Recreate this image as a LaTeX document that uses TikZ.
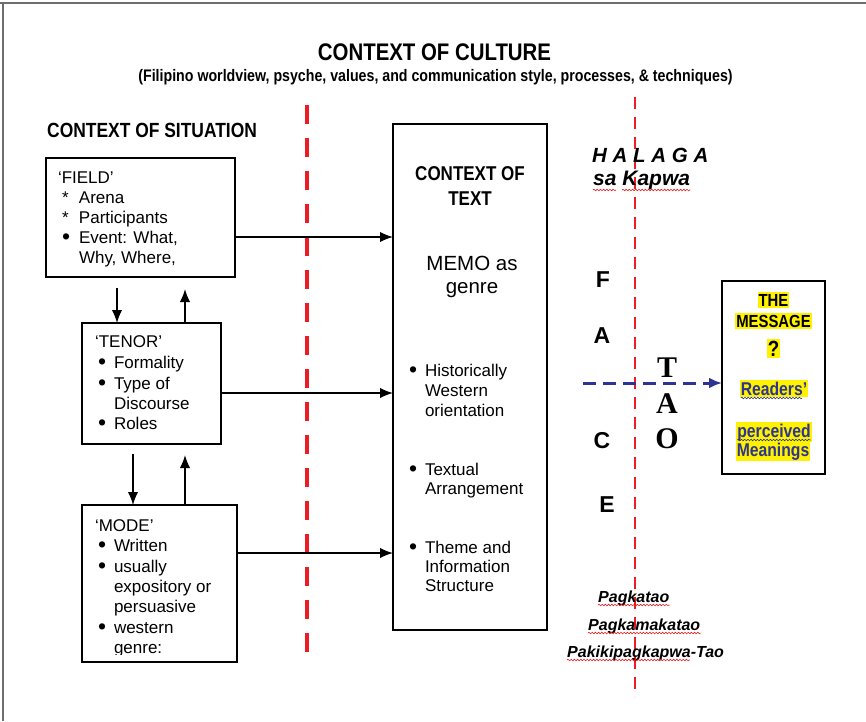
\documentclass[tikz,border=0pt]{standalone}
\usepackage{fontspec}
\setmainfont{Liberation Sans}
\newfontfamily\narrowf[FakeStretch=0.85]{Liberation Sans}
\newfontfamily\timesf{Liberation Serif}
\usetikzlibrary{arrows.meta,decorations.pathmorphing}
\definecolor{dashred}{RGB}{237,28,36}
\definecolor{navy}{RGB}{46,52,146}
\definecolor{hl}{RGB}{255,242,0}
\definecolor{framegray}{RGB}{110,110,110}
\newcommand{\bul}{\raisebox{-1.9pt}{\scalebox{1.35}{•}}}
\begin{document}
\begin{tikzpicture}[x=1pt,y=-1pt,
  box/.style={draw, line width=1.8pt, inner sep=0pt, outer sep=0pt},
  ln/.style={anchor=base west, inner sep=0pt, outer sep=0pt, font=\fontsize{17}{20}\selectfont},
  ctr/.style={anchor=base, inner sep=0pt, outer sep=0pt},
  arr/.style={line width=1.6pt, -{Latex[length=13pt,width=10.5pt]}},
  wave/.style={dashred, line width=0.6pt, decorate, decoration={snake, amplitude=0.8pt, segment length=3.2pt}},
  hlt/.style={anchor=base, fill=hl, inner xsep=1pt, inner ysep=1.5pt, outer sep=0pt},
  msgb/.style={font=\narrowf\bfseries\fontsize{17.5}{20}\selectfont},
  msgn/.style={font=\narrowf\bfseries\fontsize{18.5}{20}\selectfont, text=navy},
  face/.style={ctr, font=\bfseries\fontsize{23}{25}\selectfont},
  tao/.style={ctr, font=\timesf\bfseries\fontsize{30}{32}\selectfont},
  kapwa/.style={anchor=base west, inner sep=0pt, font=\bfseries\itshape\fontsize{16}{18}\selectfont}
]
\useasboundingbox (0,0) rectangle (866,721);
\fill[white] (0,0) rectangle (866,721);
% frame
\draw[framegray, line width=2pt] (0,3) -- (866,3);
\draw[framegray, line width=2pt] (3,2) -- (3,721);

% titles
\node[ctr, font=\narrowf\bfseries\fontsize{24}{28}\selectfont] (title) at (434.5,60) {CONTEXT OF CULTURE};
\node[ctr, font=\narrowf\bfseries\fontsize{16.7}{18}\selectfont] (subtitle) at (435.5,81) {(Filipino worldview, psyche, values, and communication style, processes, \& techniques)};
\node[anchor=base west, inner sep=0pt, font=\narrowf\bfseries\fontsize{20.5}{24}\selectfont] (sit) at (47,137) {CONTEXT OF SITUATION};

% red dashed lines
\draw[dashred, line width=4.5pt, dash pattern=on 19pt off 14pt] (307,105) -- (307,665);
\draw[dashred, line width=2.8pt, dash pattern=on 12pt off 8pt] (635,97) -- (635,697);

% boxes
\node[box, minimum width=189pt, minimum height=119pt] (field) at (140.5,217.5) {};
\node[box, minimum width=139pt, minimum height=121pt] (tenor) at (151.5,383.5) {};
\node[box, minimum width=155pt, minimum height=157pt] (mode) at (159.5,583.5) {};
\node[box, minimum width=154pt, minimum height=506pt] (ctx) at (470,377) {};
\node[box, minimum width=103pt, minimum height=193pt] (msg) at (773.5,377.5) {};

% FIELD text
\node[ln] (f0) at (58,183) {‘FIELD’};
\node[ln] (f1) at (62,203) {\makebox[17pt][l]{*}Arena};
\node[ln] (f2) at (62,223) {\makebox[17pt][l]{*}Participants};
\node[ln] (f3) at (62,243) {\makebox[17pt][l]{\bul}Event: What,};
\node[ln] (f4) at (62,263) {\makebox[17pt][l]{}Why, Where,};

% TENOR text
\node[ln] (t0) at (95,347) {‘TENOR’};
\node[ln] (t1) at (98,368) {\makebox[16pt][l]{\bul}Formality};
\node[ln] (t2) at (98,389) {\makebox[16pt][l]{\bul}Type of};
\node[ln] (t3) at (98,409) {\makebox[16pt][l]{}Discourse};
\node[ln] (t4) at (98,429) {\makebox[16pt][l]{\bul}Roles};

% MODE text
\node[ln] (m0) at (95,531) {‘MODE’};
\node[ln] (m1) at (98,551) {\makebox[16pt][l]{\bul}Written};
\node[ln] (m2) at (98,572) {\makebox[16pt][l]{\bul}usually};
\node[ln] (m3) at (98,592) {\makebox[16pt][l]{}expository or};
\node[ln] (m4) at (98,612) {\makebox[16pt][l]{}persuasive};
\node[ln] (m5) at (98,633) {\makebox[16pt][l]{\bul}western};
\begin{scope}
\clip (84,600) rectangle (235,654.5);
\node[ln] (m6) at (98,653) {\makebox[16pt][l]{}genre:};
\end{scope}

% CONTEXT OF TEXT
\node[ctr, font=\narrowf\bfseries\fontsize{20}{24}\selectfont] (c0) at (470,180) {CONTEXT OF};
\node[ctr, font=\narrowf\bfseries\fontsize{20}{24}\selectfont] (c1) at (470,205) {TEXT};
\node[ctr, font=\fontsize{20.5}{24}\selectfont] (c2) at (472,270) {MEMO as};
\node[ctr, font=\fontsize{20.5}{24}\selectfont] (c3) at (472,293) {genre};
\node[ln] (c4) at (409,376) {\makebox[16pt][l]{\bul}Historically};
\node[ln] (c5) at (409,396) {\makebox[16pt][l]{}Western};
\node[ln] (c6) at (409,416) {\makebox[16pt][l]{}orientation};
\node[ln] (c7) at (409,475) {\makebox[16pt][l]{\bul}Textual};
\node[ln] (c8) at (409,494) {\makebox[16pt][l]{}Arrangement};
\node[ln] (c9) at (409,553) {\makebox[16pt][l]{\bul}Theme and};
\node[ln] (c10) at (409,572) {\makebox[16pt][l]{}Information};
\node[ln] (c11) at (409,591) {\makebox[16pt][l]{}Structure};

% horizontal arrows
\coordinate (yF) at (0,237);
\coordinate (yT) at (0,393);
\coordinate (yM) at (0,553);
\draw[arr] (field.east |- yF) -- (ctx.west |- yF);
\draw[arr] (tenor.east |- yT) -- (ctx.west |- yT);
\draw[arr] (mode.east |- yM) -- (ctx.west |- yM);

% vertical arrows
\coordinate (xA) at (117,0);
\coordinate (xB) at (185,0);
\coordinate (xC) at (133,0);
\draw[arr, shorten <=11pt] (field.south -| xA) -- (tenor.north -| xA);
\draw[arr, shorten >=12pt] (tenor.north -| xB) -- (field.south -| xB);
\draw[arr, shorten <=10pt] (tenor.south -| xC) -- (mode.north -| xC);
\draw[arr, shorten >=11pt] (mode.north -| xB) -- (tenor.south -| xB);

% HALAGA sa Kapwa
\node[anchor=base west, inner sep=0pt, font=\bfseries\itshape\fontsize{20.5}{24}\selectfont] (hal) at (592,162) {H A L A G A};
\node[anchor=base west, inner sep=0pt, font=\bfseries\itshape\fontsize{21}{24}\selectfont] (sk) at (593,185) {sa Kapwa};
\draw[wave] ([yshift=-5pt]sk.base west) -- ([xshift=23pt,yshift=-5pt]sk.base west);
\draw[wave] ([xshift=29pt,yshift=-5pt]sk.base west) -- ([yshift=-5pt]sk.base east);

% FACE
\node[face] (fF) at (603,287) {F};
\node[face] (fA) at (602,343) {A};
\node[face] (fC) at (602,448) {C};
\node[face] (fE) at (607,512) {E};
% TAO
\node[tao] (tT) at (667,377) {T};
\node[tao] (tA) at (667,413) {A};
\node[tao] (tO) at (667,448) {O};

% blue dashed arrow
\coordinate (bstart) at (583,383);
\draw[navy, line width=3pt, dash pattern=on 13pt off 7pt, -{Latex[length=13pt,width=11pt]}] (bstart) -- (msg.west |- bstart);

% message box contents
\node[hlt, msgb] (ms0) at (773.5,306) {THE};
\node[hlt, msgb] (ms1) at (773.5,327) {MESSAGE};
\node[hlt, font=\narrowf\bfseries\fontsize{22}{24}\selectfont, inner ysep=2pt] (ms2) at (773.5,356) {?};
\node[hlt, msgn] (ms3) at (774,395) {Readers’};
\node[hlt, msgn] (ms4) at (774,437) {perceived};
\node[hlt, msgn] (ms5) at (773,456) {Meanings};
\draw[wave, navy] ([xshift=1pt,yshift=-3pt]ms3.base west) -- ([xshift=-6pt,yshift=-3pt]ms3.base east);
\draw[wave, navy] ([xshift=1pt,yshift=-3pt]ms4.base west) -- ([xshift=-1pt,yshift=-3pt]ms4.base east);

% bottom Filipino terms
\node[kapwa] (p1) at (598,602) {Pagkatao};
\node[kapwa] (p2) at (588,630) {Pagkamakatao};
\node[kapwa] (p3) at (567,657) {Pakikipagkapwa-Tao};
\draw[wave] ([yshift=-3pt]p1.base west) -- ([yshift=-3pt]p1.base east);
\draw[wave] ([yshift=-3pt]p2.base west) -- ([yshift=-3pt]p2.base east);
\draw[wave] ([yshift=-3pt]p3.base west) -- ([xshift=-34pt,yshift=-3pt]p3.base east);
\end{tikzpicture}
\end{document}
